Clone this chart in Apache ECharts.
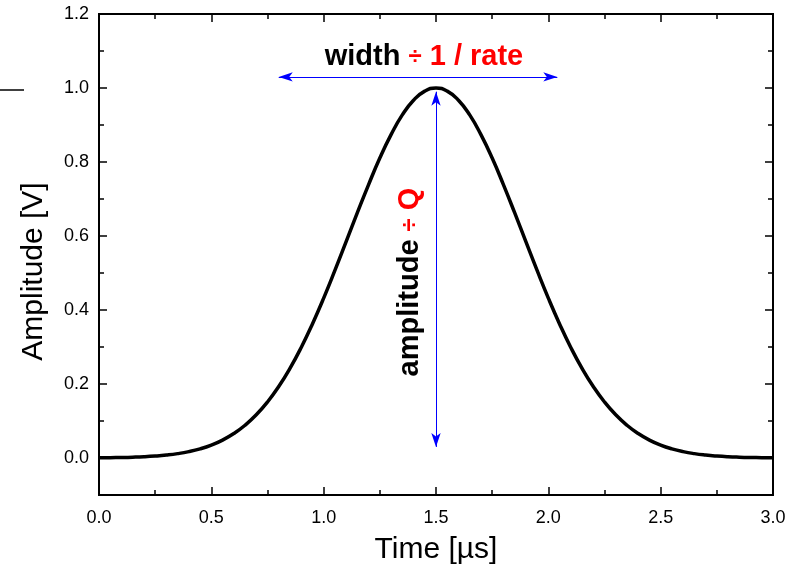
<!DOCTYPE html>
<html>
<head>
<meta charset="utf-8">
<title>pulse</title>
<script src="https://cdn.jsdelivr.net/npm/echarts@6/dist/echarts.min.js"></script>
<style>
  html, body { margin: 0; padding: 0; background: #fff; }
  #main { width: 792px; height: 575px; }
</style>
</head>
<body>
<div id="main"></div>
<script>
// time axis in µs, amplitude in V
var timeUs = [0.00, 0.05, 0.10, 0.15, 0.20, 0.25, 0.30, 0.35, 0.40, 0.45,
  0.50, 0.55, 0.60, 0.65, 0.70, 0.75, 0.80, 0.85, 0.90, 0.95,
  1.00, 1.05, 1.10, 1.15, 1.20, 1.25, 1.30, 1.35, 1.40, 1.45,
  1.50, 1.55, 1.60, 1.65, 1.70, 1.75, 1.80, 1.85, 1.90, 1.95,
  2.00, 2.05, 2.10, 2.15, 2.20, 2.25, 2.30, 2.35, 2.40, 2.45,
  2.50, 2.55, 2.60, 2.65, 2.70, 2.75, 2.80, 2.85, 2.90, 2.95, 3.00];
var amplitude = [0.0005, 0.0009, 0.0014, 0.0022, 0.0034, 0.0053, 0.0080, 0.0118, 0.0172, 0.0247,
  0.0349, 0.0484, 0.0660, 0.0885, 0.1167, 0.1514, 0.1932, 0.2422, 0.2988, 0.3624,
  0.4320, 0.5069, 0.5845, 0.6629, 0.7390, 0.8108, 0.8740, 0.9273, 0.9670, 0.9916,
  1.0000, 0.9916, 0.9670, 0.9273, 0.8740, 0.8108, 0.7390, 0.6629, 0.5845, 0.5069,
  0.4320, 0.3624, 0.2988, 0.2422, 0.1932, 0.1514, 0.1167, 0.0885, 0.0660, 0.0484,
  0.0349, 0.0247, 0.0172, 0.0118, 0.0080, 0.0053, 0.0034, 0.0022, 0.0014, 0.0009, 0.0005];

var yMajor = [0, 0.2, 0.4, 0.6, 0.8, 1.0, 1.2];
var yMinor = [-0.1, 0.1, 0.3, 0.5, 0.7, 0.9, 1.1];

// arrow ends: width arrow and amplitude arrow
var widthArrow = [[0.80, 1.03], [2.04, 1.03]];
var ampArrow = [[1.5, 0.99], [1.5, 0.03]];

var pts = timeUs.map(function (t, i) { return [t, amplitude[i]]; });

var chart = echarts.init(document.getElementById('main'));

var sans = 'Liberation Sans, Arial';

function yAx(pos, vals, len, labels) {
  return {
    type: 'value', position: pos, min: -0.1, max: 1.2,
    splitLine: { show: false },
    axisLine: { show: true, onZero: false, lineStyle: { color: '#000', width: 2 } },
    axisTick: { show: true, inside: true, length: len, customValues: vals, lineStyle: { color: '#000', width: 1.5 } },
    axisLabel: {
      show: labels, customValues: vals, margin: 10,
      fontFamily: sans, fontSize: 18, color: '#000',
      formatter: function (v) { return v.toFixed(1); }
    },
    name: labels ? 'Amplitude [V]' : '',
    nameLocation: 'middle', nameGap: 50,
    // push the title a little below the axis centre, as in the original
    nameTextStyle: { fontFamily: sans, fontSize: 30, color: '#000', padding: [0, 34, 0, 0] }
  };
}

function xAx(pos, labels) {
  return {
    type: 'value', position: pos, min: 0, max: 3, interval: 0.5,
    splitLine: { show: false },
    axisLine: { show: true, onZero: false, lineStyle: { color: '#000', width: 2 } },
    axisTick: { show: true, inside: true, length: 8, lineStyle: { color: '#000', width: 1.5 } },
    minorTick: { show: true, splitNumber: 2, length: 5, lineStyle: { color: '#000', width: 1.5 } },
    axisLabel: {
      show: labels, margin: 14,
      fontFamily: sans, fontSize: 18, color: '#000',
      formatter: function (v) { return v.toFixed(1); }
    },
    name: labels ? 'Time [\u00b5s]' : '',
    nameLocation: 'middle', nameGap: 40,
    nameTextStyle: { fontFamily: sans, fontSize: 30, color: '#000' }
  };
}

var annRich = {
  b: { fontFamily: sans, fontWeight: 'bold', fontSize: 29, fill: '#000' },
  d: { fontFamily: sans, fontWeight: 'bold', fontSize: 24, fill: '#ff0000' },
  r: { fontFamily: sans, fontWeight: 'bold', fontSize: 29, fill: '#ff0000' }
};

chart.setOption({
  animation: false,
  backgroundColor: '#fff',
  grid: { left: 99, right: 19, top: 14, bottom: 80, containLabel: false },
  xAxis: [xAx('bottom', true), xAx('top', false)],
  yAxis: [yAx('left', yMajor, 8, true), yAx('left', yMinor, 5, false),
          yAx('right', yMajor, 8, false), yAx('right', yMinor, 5, false)],
  series: [{
    type: 'line',
    data: pts,
    smooth: true,
    showSymbol: false,
    lineStyle: { color: '#000', width: 3.5 },
    z: 3
  }, {
    type: 'line',
    data: [],
    silent: true,
    markLine: {
      silent: true,
      symbol: ['arrow', 'arrow'],
      symbolSize: [7, 14],
      label: { show: false },
      lineStyle: { color: '#0000ff', width: 1, type: 'solid' },
      data: [
        [{ coord: widthArrow[0] }, { coord: widthArrow[1] }],
        [{ coord: ampArrow[0] }, { coord: ampArrow[1] }]
      ]
    }
  }],
  graphic: [{
    type: 'text', x: 424, y: 57,
    style: {
      text: '{b|width }{d|\u00f7}{r| 1 / rate}',
      align: 'center', verticalAlign: 'middle',
      rich: annRich
    }
  }, {
    type: 'text', x: 410, y: 282, rotation: Math.PI / 2,
    style: {
      text: '{b|amplitude }{d|\u00f7}{r| Q}',
      align: 'center', verticalAlign: 'middle',
      rich: annRich
    }
  }, {
    type: 'line',
    shape: { x1: 0, y1: 90, x2: 24, y2: 90 },
    style: { stroke: '#000', lineWidth: 1.5 }
  }]
});
</script>
</body>
</html>
